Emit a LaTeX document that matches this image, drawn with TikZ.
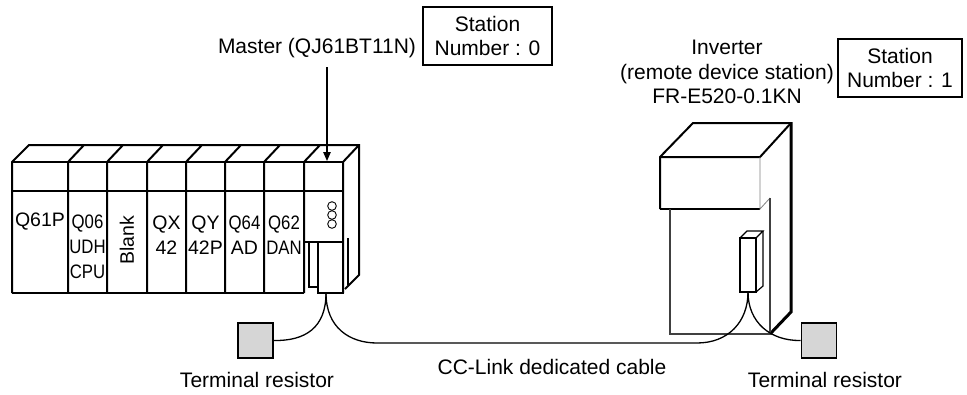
\documentclass[tikz,border=0pt]{standalone}
\usepackage{fontspec}
\usepackage{graphicx}
\setmainfont{Liberation Sans}
\usetikzlibrary{arrows.meta,calc,positioning}

\newcommand{\narrow}[1]{\scalebox{0.86}[1]{#1}}

\begin{document}
\begin{tikzpicture}[x=1pt,y=-1pt, every node/.style={inner sep=0pt},
  outline/.style={line width=2pt, line join=miter},
  fineline/.style={line width=1.2pt},
  lbl/.style={font=\fontsize{21}{24.5}\selectfont, align=center},
  modlbl/.style={font=\fontsize{19.5}{25}\selectfont, align=center},
  stationbox/.style={draw, line width=1.4pt, font=\fontsize{21}{23.5}\selectfont, align=center, minimum height=58pt},
  resbox/.style={draw, fill=resfill, line width=1.8pt, minimum size=35pt},
  cable/.style={line width=1.3pt}]
\definecolor{resfill}{HTML}{D6D6D6}\definecolor{bodyline}{HTML}{404040}
\useasboundingbox (0,0) rectangle (967,394);

% base unit with modules
\draw[outline] (12,293) -- (12,162) -- (29,145) -- (359,145) -- (359,275) -- (345,289);
\draw[outline] (12,162) -- (343,162);
\draw[outline] (12,293) -- (304,293);
\draw[fineline] (12,191) -- (343,191);
\foreach \x in {68,107,147,186,225,264,304,343}
  \draw[outline] (\x,293) -- (\x,162) -- ++(16,-17);
% network module: connector and LEDs
\draw[fineline] (304,242) -- (343,242);
\draw[outline] (309,242) rectangle (318,287);
\draw[outline] (318,242) rectangle (343,293);
\draw[fineline] (348,238) -- (348,285);
\foreach \y in {206,215,224}
  \draw[line width=0.9pt] (332,\y) circle (4.3pt);

\node[modlbl] (q61p) at (40,222) {Q61P};
\node[modlbl] (q06) at (87.5,247) {\narrow{Q06}\\\narrow{UDH}\\\narrow{CPU}};
\node[modlbl, rotate=90] (blank) at (127,240) {Blank};
\node[modlbl] (qx42) at (166.5,235) {QX\\42};
\node[modlbl] (qy42p) at (205.5,235) {QY\\42P};
\node[modlbl] (q64ad) at (244.5,235) {\narrow{Q64}\\AD};
\node[modlbl] (q62dan) at (284,235) {\narrow{Q62}\\\narrow{DAN}};

% master label and station number
\node[lbl] (master) at (317,48) {Master (QJ61BT11N)};
\node[stationbox, minimum width=129pt] (st0) at (487.5,36) {Station\\Number : 0};
\coordinate (arrtop) at (327,67);
\coordinate (arrtip) at (327,161);
\draw[line width=1.2pt, -{Triangle[length=9pt,width=7.5pt]}] (arrtop) -- (arrtip);

% inverter
\draw[outline] (660,209) -- (660,157) -- (693,123) -- (791,123);
\draw[line width=3pt] (791,122) -- (791,312) -- (770,334);
\draw[outline] (660,157) -- (760,157) -- (791,123);
\draw[outline] (660,209) -- (760,209);
\draw[line width=0.8pt, gray] (760,157) -- (760,209) -- (770,198);
\draw[line width=1.3pt, bodyline] (670,209) -- (670,334) -- (770,334) -- (770,198);
\draw[outline] (740,238) rectangle (756,292);
\draw[fineline] (740,238) -- (747,231) -- (763,231) -- (756,238);
\draw[fineline] (763,231) -- (763,286) -- (756,292);

\node[lbl] (inv) at (727,72) {Inverter\\(remote device station)\\FR-E520-0.1KN};
\node[stationbox, minimum width=124pt] (st1) at (900,68) {Station\\Number : 1};

% terminal resistors and cable
\node[resbox] (termL) at (255.5,340.5) {};
\node[resbox] (termR) at (819,340.5) {};
\coordinate (mcon) at (326,293);
\coordinate (icon) at (748,292);
\coordinate (bendL) at (377,343);
\coordinate (bendR) at (697,343);
\draw[cable] (mcon) .. controls (326,328) and (305,341) .. (termL.west -| termL.east);
\draw[cable] (mcon) .. controls (326,328) and (350,343) .. (bendL) -- (bendR)
  .. controls (728,343) and (748,322) .. (icon);
\draw[cable] (icon) .. controls (748,322) and (770,341) .. (termR.west);

\node[lbl] (trL) at (257,380) {Terminal resistor};
\node[lbl] (cablelbl) at (552,367) {CC-Link dedicated cable};
\node[lbl] (trR) at (825,380) {Terminal resistor};
\end{tikzpicture}
\end{document}
